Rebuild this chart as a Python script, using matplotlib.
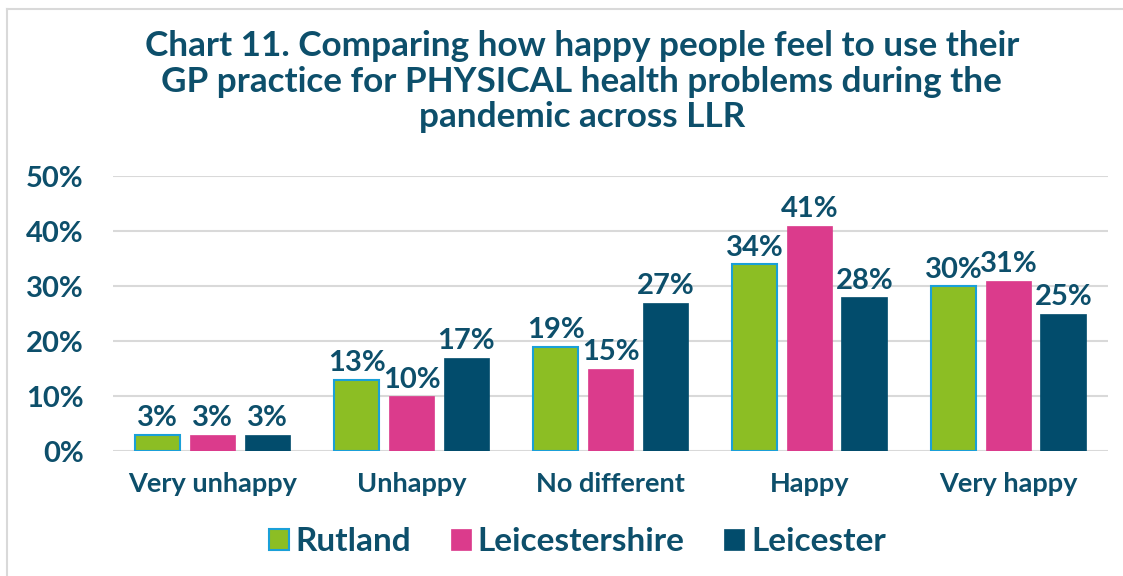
import matplotlib
matplotlib.use("Agg")
import matplotlib.pyplot as plt
import numpy as np
from matplotlib.lines import Line2D

categories = ["Very unhappy", "Unhappy", "No different", "Happy", "Very happy"]
series = ["Rutland", "Leicestershire", "Leicester"]
rutland = [3, 13, 19, 34, 30]
leicestershire = [3, 10, 15, 41, 31]
leicester = [3, 17, 27, 28, 25]
yticks = [0, 10, 20, 30, 40, 50]

TXT = "#0D4F6B"
colors = ["#8CBE24", "#DB3B8C", "#024C6C"]
edges = ["#1AA0D8", "#DB3B8C", "#024C6C"]

plt.rcParams["font.family"] = ["Lato", "DejaVu Sans"]
plt.rcParams["font.weight"] = "bold"

fig = plt.figure(figsize=(11.23, 5.76), dpi=100)
ax = fig.add_axes([0.1006, 0.217, 0.886, 0.477])

x = np.arange(len(categories))
w = 0.23
off = 0.276
for i, (vals, name) in enumerate(zip([rutland, leicestershire, leicester], series)):
    pos = x + (i - 1) * off
    ax.bar(pos, vals, w, color=colors[i], edgecolor=edges[i],
           linewidth=1.5 if i == 0 else 0.5, label=name, zorder=3)
    for p, v in zip(pos, vals):
        ax.text(p, v + 0.6, f"{v}%", ha="center", va="bottom", fontsize=21,
                color=TXT, fontweight="bold", zorder=4)

ax.set_xlim(-0.5, len(categories) - 0.5)
ax.set_ylim(0, 50)
ax.set_yticks(yticks)
ax.set_yticklabels([f"{t}%" for t in yticks], fontsize=21, color=TXT, fontweight="bold")
ax.set_xticks(x)
ax.set_xticklabels(categories, fontsize=19.5, color=TXT, fontweight="bold")
ax.tick_params(axis="both", length=0)
ax.tick_params(axis="y", pad=21)
ax.tick_params(axis="x", pad=15)
ax.yaxis.grid(True, color="#D9D9D9", linewidth=1.5, zorder=0)
for s in ax.spines.values():
    s.set_visible(False)

fig.text(0.518, 0.948,
         "Chart 11. Comparing how happy people feel to use their\n"
         "GP practice for PHYSICAL health problems during the\n"
         "pandemic across LLR",
         ha="center", va="top", fontsize=25.3, color=TXT, fontweight="bold",
         linespacing=1.14)

fig.legend(loc="center", bbox_to_anchor=(0.514, 0.06), ncol=3, frameon=False,
           fontsize=24, handlelength=0.6, handleheight=0.6, handletextpad=0.2,
           columnspacing=1.2, labelcolor=TXT)

# light frame around the chart
fig.add_artist(Line2D([7 / 1123, 7 / 1123], [0, 1 - 9 / 576], color="#D9D9D9", lw=1.5))
fig.add_artist(Line2D([7 / 1123, 1], [1 - 9 / 576, 1 - 9 / 576], color="#D9D9D9", lw=1.5))

fig.savefig("out.png", dpi=100)
